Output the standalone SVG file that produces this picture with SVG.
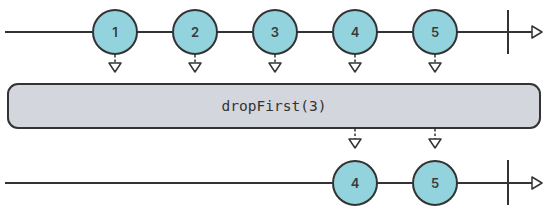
<svg xmlns="http://www.w3.org/2000/svg" width="549" height="211" viewBox="0 0 549 211">
<defs>
<style>
.line{stroke:#333;stroke-width:2;fill:none}
.dash{stroke:#333;stroke-width:1.5;stroke-dasharray:2.5 2;fill:none}
.tri{fill:#fff;stroke:#333;stroke-width:1.5;stroke-linejoin:round}
.marble{fill:#92d3dd;stroke:#333;stroke-width:2}
.lbl{font-family:"Inter","Liberation Sans",sans-serif;font-size:13px;font-weight:600;fill:#3a3a3a;text-anchor:middle;dominant-baseline:central}
.op{fill:#d3d6dd;stroke:#333;stroke-width:2}
.optext{font-family:"DejaVu Sans Mono","Liberation Mono",monospace;font-size:14.5px;fill:#333;text-anchor:middle;dominant-baseline:central}
</style>
</defs>
<g id="connectors">
<line class="line" x1="5" y1="32" x2="533" y2="32"/>
<line class="line" x1="508" y1="10" x2="508" y2="54"/>
<path class="tri" d="M532,26 L542,32 L532,38 Z"/>
<line class="line" x1="5" y1="183" x2="533" y2="183"/>
<line class="line" x1="508" y1="160" x2="508" y2="205"/>
<path class="tri" d="M532,177 L542,183 L532,189 Z"/>
<line class="dash" x1="115" y1="55" x2="115" y2="63"/>
<path class="tri" d="M109,63 L121,63 L115,72 Z"/>
<line class="dash" x1="195" y1="55" x2="195" y2="63"/>
<path class="tri" d="M189,63 L201,63 L195,72 Z"/>
<line class="dash" x1="275" y1="55" x2="275" y2="63"/>
<path class="tri" d="M269,63 L281,63 L275,72 Z"/>
<line class="dash" x1="355" y1="55" x2="355" y2="63"/>
<path class="tri" d="M349,63 L361,63 L355,72 Z"/>
<line class="dash" x1="435" y1="55" x2="435" y2="63"/>
<path class="tri" d="M429,63 L441,63 L435,72 Z"/>
<line class="dash" x1="355" y1="129" x2="355" y2="139"/>
<path class="tri" d="M349,139 L361,139 L355,148 Z"/>
<line class="dash" x1="435" y1="129" x2="435" y2="139"/>
<path class="tri" d="M429,139 L441,139 L435,148 Z"/>
</g>
<g id="m1"><circle class="marble" cx="115" cy="32" r="22"/><text class="lbl" x="115" y="32">1</text></g>
<g id="m2"><circle class="marble" cx="195" cy="32" r="22"/><text class="lbl" x="195" y="32">2</text></g>
<g id="m3"><circle class="marble" cx="275" cy="32" r="22"/><text class="lbl" x="275" y="32">3</text></g>
<g id="m4"><circle class="marble" cx="355" cy="32" r="22"/><text class="lbl" x="355" y="32">4</text></g>
<g id="m5"><circle class="marble" cx="435" cy="32" r="22"/><text class="lbl" x="435" y="32">5</text></g>
<g id="op"><rect class="op" x="8" y="84" width="532" height="44" rx="10"/><text class="optext" x="274" y="106">dropFirst(3)</text></g>
<g id="o4"><circle class="marble" cx="355" cy="183" r="22"/><text class="lbl" x="355" y="183">4</text></g>
<g id="o5"><circle class="marble" cx="435" cy="183" r="22"/><text class="lbl" x="435" y="183">5</text></g>
</svg>
